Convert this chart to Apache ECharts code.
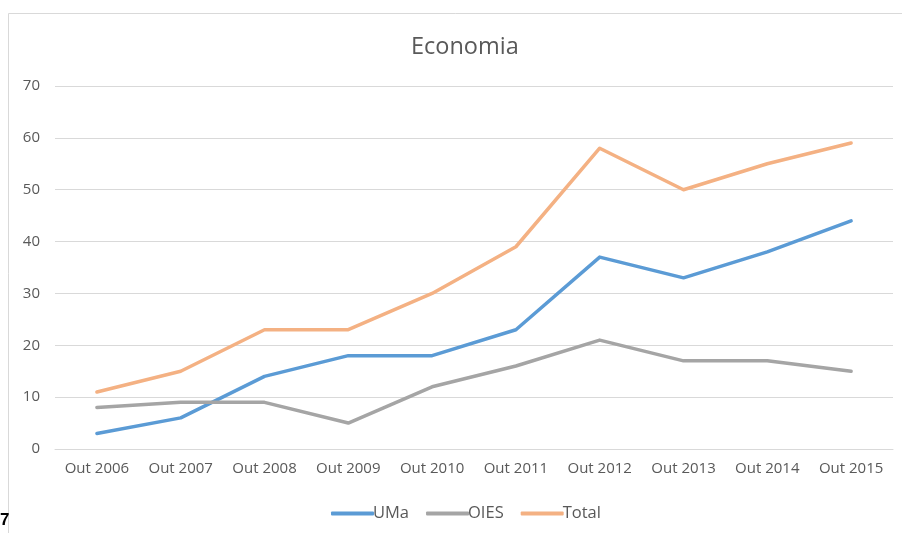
<!DOCTYPE html>
<html>
<head>
<meta charset="utf-8">
<script src="https://cdn.jsdelivr.net/npm/echarts@6/dist/echarts.min.js"></script>
<style>
  html, body { margin: 0; padding: 0; background: #fff; }
  #chart { width: 902px; height: 533px; }
</style>
</head>
<body>
<div id="chart"></div>
<script>
const categories = ['Out 2006', 'Out 2007', 'Out 2008', 'Out 2009', 'Out 2010',
                    'Out 2011', 'Out 2012', 'Out 2013', 'Out 2014', 'Out 2015'];
const umaValues   = [3, 6, 14, 18, 18, 23, 37, 33, 38, 44];
const oiesValues  = [8, 9, 9, 5, 12, 16, 21, 17, 17, 15];
const totalValues = [11, 15, 23, 23, 30, 39, 58, 50, 55, 59];

const textColor = '#595959';
const font = 'Open Sans';

function lineSeries(name, data, color) {
  return {
    name, type: 'line', data,
    symbol: 'none',
    lineStyle: { color, width: 3.5, cap: 'round', join: 'round' },
    itemStyle: { color },
    z: 3
  };
}

const chart = echarts.init(document.getElementById('chart'), null, { renderer: 'canvas' });
chart.setOption({
  backgroundColor: '#fff',
  animation: false,
  title: {
    text: 'Economia', left: 406, top: 30,
    textStyle: { color: textColor, fontFamily: font, fontSize: 23.5, fontWeight: 'normal' }
  },
  legend: {
    top: 500, left: 326,
    itemWidth: 43, itemHeight: 4, itemGap: 17,
    icon: 'roundRect',
    textStyle: { color: textColor, fontFamily: font, fontSize: 16.5, padding: [0, 0, 0, -6] },
    data: ['UMa', 'OIES', 'Total']
  },
  grid: { left: 55, right: 9, top: 86, bottom: 84, containLabel: false },
  xAxis: {
    type: 'category', data: categories, boundaryGap: true,
    axisLine: { show: true, lineStyle: { color: '#d9d9d9', width: 1 } },
    axisTick: { show: false },
    axisLabel: { color: textColor, fontFamily: font, fontSize: 15, margin: 12, interval: 0 }
  },
  yAxis: {
    type: 'value', min: 0, max: 70, interval: 10,
    axisLine: { show: false }, axisTick: { show: false },
    axisLabel: { color: textColor, fontFamily: font, fontSize: 15, margin: 15 },
    splitLine: { lineStyle: { color: '#d9d9d9', width: 1 } }
  },
  series: [
    lineSeries('UMa', umaValues, '#5b9bd5'),
    lineSeries('OIES', oiesValues, '#a5a5a5'),
    lineSeries('Total', totalValues, '#f4b183')
  ],
  graphic: [
    { type: 'rect', shape: { x: 8.5, y: 13.5, width: 900, height: 530 },
      style: { fill: 'none', stroke: '#d9d9d9', lineWidth: 1 }, silent: true, z: -1 },
    { type: 'text', left: 0, top: 512,
      style: { text: '7', fill: '#000', font: 'bold 17px Liberation Sans' } }
  ]
});
</script>
</body>
</html>
